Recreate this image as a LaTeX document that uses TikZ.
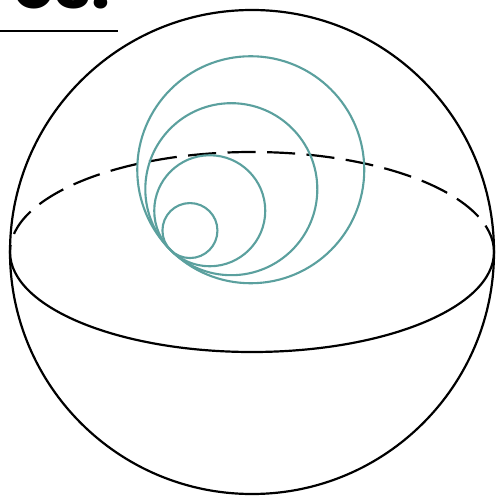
\documentclass[tikz,border=0pt]{standalone}
\usepackage{fontspec}
\setmainfont{Poppins}
\definecolor{circteal}{HTML}{5BA09E}
\tikzset{
  shell/.style={draw=black, line width=1.25pt},
  backdash/.style={shell, dash pattern=on 16pt off 6.5pt},
  ring/.style={draw=circteal, line width=1.2pt},
  heading/.style={anchor=base east, inner sep=0pt, font=\fontsize{38}{46}\selectfont\bfseries}
}
\begin{document}
\begin{tikzpicture}[x=0.02cm, y=-0.02cm]
  \useasboundingbox (0,0) rectangle (497,497);
  % cropped heading with its rule
  \node[heading] (title) at (111,9) {es.};
  \draw[line width=1.1pt] (0,30.7) -- (118,30.7);
  % sphere and its equator
  \coordinate (O) at (252,252);
  \draw[shell] (O) circle[radius=242];
  \draw[backdash] (O) ++(0:242 and 100) arc[start angle=360, end angle=180, x radius=242, y radius=100];
  \draw[shell] (O) ++(180:242 and 100) arc[start angle=180, end angle=0, x radius=242, y radius=100];
  % nested circles touching at one point
  \coordinate (P) at (170.5,250);
  \foreach \r in {27.5,55.5,86,113.5}
    \draw[ring] (P) ++(-45:\r) circle[radius=\r];
\end{tikzpicture}
\end{document}
